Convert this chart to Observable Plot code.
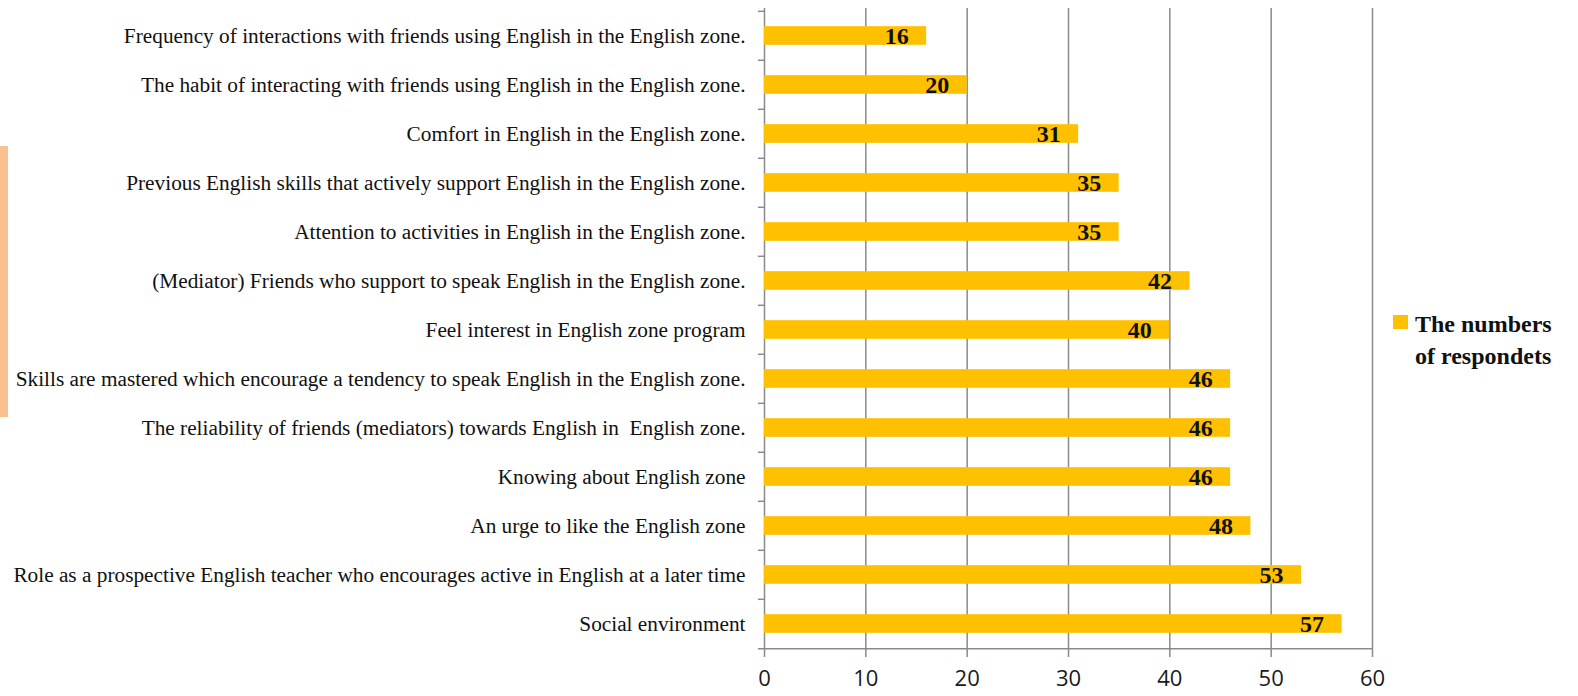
<!DOCTYPE html>
<html>
<head>
<meta charset="utf-8">
<script src="https://cdn.jsdelivr.net/npm/d3@7"></script>
<script src="https://cdn.jsdelivr.net/npm/@observablehq/plot@0.6"></script>
<style>
  html, body { margin: 0; padding: 0; background: #fff; }
  #wrap { position: relative; width: 1578px; height: 696px; overflow: hidden; }
  #peach { position: absolute; left: 0; top: 146px; width: 8px; height: 271px; background: #FAC090; }
  #legend { position: absolute; left: 1393px; top: 308px; font-family: "Liberation Serif", serif; font-weight: bold; font-size: 24px; line-height: 32px; color: #111; }
  #legend .sw { position: absolute; left: 0; top: 7px; width: 15px; height: 14px; background: #FFC000; }
  #legend .txt { margin-left: 22px; }
</style>
</head>
<body>
<div id="wrap">
  <div id="chart"></div>
  <div id="peach"></div>
  <div id="legend"><div class="sw"></div><div class="txt">The numbers<br>of respondets</div></div>
</div>
<script>
const categories = [
  "Frequency of interactions with friends using English in the English zone.",
  "The habit of interacting with friends using English in the English zone.",
  "Comfort in English in the English zone.",
  "Previous English skills that actively support English in the English zone.",
  "Attention to activities in English in the English zone.",
  "(Mediator) Friends who support to speak English in the English zone.",
  "Feel interest in English zone program",
  "Skills are mastered which encourage a tendency to speak English in the English zone.",
  "The reliability of friends (mediators) towards English in  English zone.",
  "Knowing about English zone",
  "An urge to like the English zone",
  "Role as a prospective English teacher who encourages active in English at a later time",
  "Social environment"
];
const values = [16, 20, 31, 35, 35, 42, 40, 46, 46, 46, 48, 53, 57];
const xTicks = [0, 10, 20, 30, 40, 50, 60];
const seriesName = "The numbers of respondets";

const data = categories.map((c, i) => ({category: c, value: values[i]}));

const marginTop = 8, marginBottom = 46, height = 696;
const band = (height - marginTop - marginBottom) / categories.length;
const barH = 19;
const inset = (band - barH) / 2;
const gridColor = "#8a8a8a";

const chart = Plot.plot({
  width: 1578,
  height,
  marginLeft: 764,
  marginRight: 206,
  marginTop,
  marginBottom,
  style: {background: "transparent", overflow: "visible"},
  x: {domain: [0, 60], ticks: xTicks},
  y: {domain: categories, padding: 0},
  marks: [
    Plot.gridX(xTicks, {stroke: gridColor, strokeOpacity: 1, strokeWidth: 1.5}),
    Plot.axisX(xTicks, {
      tickSize: 7, tickPadding: 13, stroke: gridColor, strokeWidth: 1.5,
      fontSize: 22, fontFamily: "'Open Sans', 'Noto Sans', sans-serif", fill: "#1a1a1a", label: null
    }),
    Plot.barX(data, {x: "value", y: "category", fill: "#FFC000", insetTop: inset, insetBottom: inset}),
    // category boundary ticks on the vertical axis
    Plot.ruleY(data, {y: "category", dy: -band / 2, x1: -0.6, x2: 0, stroke: gridColor, strokeWidth: 1.5}),
    Plot.ruleY([categories[categories.length - 1]], {y: d => d, dy: band / 2, x1: -0.6, x2: 60, stroke: gridColor, strokeWidth: 1.5}),
    Plot.axisY({
      tickSize: 0, tickPadding: 19, fontSize: 21.3,
      fontFamily: "'Liberation Serif', 'Times New Roman', serif", fill: "#111", label: null
    }),
    Plot.text(data, {
      x: "value", y: "category", text: d => String(d.value),
      textAnchor: "end", dx: -18, fontSize: 24, fontWeight: "bold",
      fontFamily: "'Liberation Serif', 'Times New Roman', serif", fill: "#111"
    })
  ]
});
document.getElementById("chart").appendChild(chart);
</script>
</body>
</html>
